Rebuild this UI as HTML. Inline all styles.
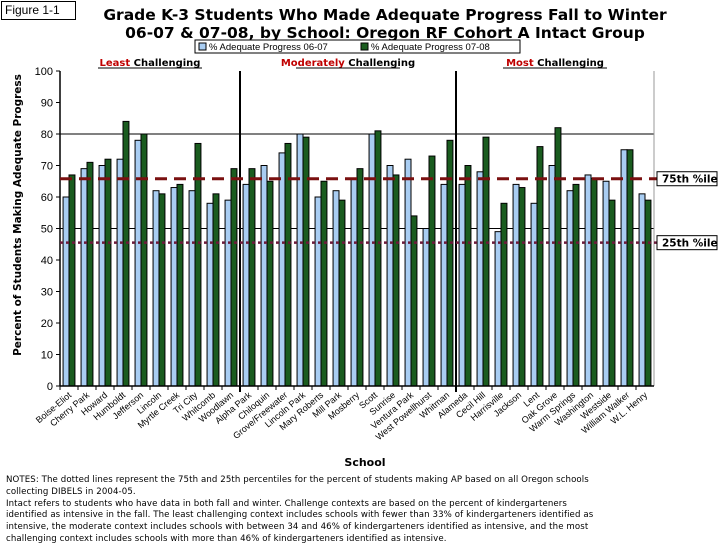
<!DOCTYPE html>
<html><head><meta charset="utf-8">
<style>
body{margin:0;width:720px;height:540px;background:#fff;overflow:hidden;font-family:"Liberation Sans","DejaVu Sans",sans-serif;position:relative}
.abs{position:absolute}
</style></head><body>
<div class="abs" style="left:1px;top:1px;width:70px;height:17px;border:1px solid #000;font-size:12px;line-height:17px;padding-left:3px">Figure 1-1</div>
<div class="abs" style="left:80px;top:6px;width:610px;text-align:center;font-weight:bold;font-size:15.5px;line-height:18px;font-family:'DejaVu Sans',sans-serif">Grade K-3 Students Who Made Adequate Progress Fall to Winter<br>06-07 &amp; 07-08, by School: Oregon RF Cohort A Intact Group</div>
<svg id="chart" class="abs" style="left:0;top:0" width="720" height="540"></svg>
<div class="abs" style="left:6px;top:475px;width:712px;font-size:8.6px;line-height:11.8px;font-family:'DejaVu Sans',sans-serif;letter-spacing:0.1px">NOTES: The dotted lines represent the 75th and 25th percentiles for the percent of students making AP based on all Oregon schools<br>collecting DIBELS in 2004-05.<br>Intact refers to students who have data in both fall and winter. Challenge contexts are based on the percent of kindergarteners<br>identified as intensive in the fall. The least challenging context includes schools with fewer than 33% of kindergarteners identified as<br>intensive, the moderate context includes schools with between 34 and 46% of kindergarteners identified as intensive, and the most<br>challenging context includes schools with more than 46% of kindergarteners identified as intensive.</div>
<script>
const categories=["Boise-Eliot","Cherry Park","Howard","Humboldt","Jefferson","Lincoln","Myrtle Creek","Tri City","Whitcomb","Woodlawn","Alpha Park","Chiloquin","Grove/Freewater","Lincoln Park","Mary Roberts","Mill Park","Mosberry","Scott","Sunrise","Ventura Park","West Powellhurst","Whitman","Alameda","Cecil Hill","Harrisville","Jackson","Lent","Oak Grove","Warm Springs","Washington","Westside","William Walker","W.L. Henry"];
const series0607=[60,69,70,72,78,62,63,62,58,59,64,70,74,80,60,62,66,80,70,72,50,64,64,68,49,64,58,70,62,67,65,75,61];
const series0708=[67,71,72,84,80,61,64,77,61,69,69,65,77,79,65,59,69,81,67,54,73,78,70,79,58,63,76,82,64,66,59,75,59];
const yTicks=[0,10,20,30,40,50,60,70,80,90,100];
const gridValues=[50,80];
const p75=65.8, p25=45.5;
const dividerAfter=[10,22];
const contexts=[["Least"," Challenging",0,10],["Moderately"," Challenging",10,22],["Most"," Challenging",22,33]];
const NS="http://www.w3.org/2000/svg";
const svg=document.getElementById('chart');
const X0=60,X1=654,Y0=386,Y1=71;
const gw=(X1-X0)/categories.length;
const y=v=>Y0-(v/100)*(Y0-Y1);
const x=i=>X0+i*gw;
function mk(t,a,p){const e=document.createElementNS(NS,t);for(const k in a)e.setAttribute(k,a[k]);(p||svg).appendChild(e);return e;}
gridValues.forEach(v=>{const l=mk('line',{x1:X0,x2:X1,y1:y(v),y2:y(v),stroke:'#000','stroke-width':1});

});
mk('line',{x1:X1,x2:X1,y1:Y1,y2:Y0,stroke:'#999','stroke-width':1});
yTicks.forEach(v=>{mk('line',{x1:X0-4,x2:X0,y1:y(v),y2:y(v),stroke:'#000'});
const t=mk('text',{x:X0-7,y:y(v)+4,'text-anchor':'end','font-size':11,fill:'#000'});t.textContent=v;

});
categories.forEach((c,i)=>{
const bw=gw*0.33;
const a=mk('rect',{x:x(i)+gw*0.17,y:y(series0607[i]),width:bw,height:Y0-y(series0607[i]),fill:'#a9cdf2',stroke:'#000','stroke-width':1});


const b=mk('rect',{x:x(i)+gw*0.5,y:y(series0708[i]),width:bw,height:Y0-y(series0708[i]),fill:'#1a5c1f',stroke:'#000','stroke-width':1});


mk('line',{x1:x(i),x2:x(i),y1:Y0,y2:Y0+4,stroke:'#000'});
const tx=x(i)+gw/2+3,ty=Y0+10;
const t=mk('text',{x:tx,y:ty,'text-anchor':'end','font-size':9,fill:'#000',transform:`rotate(-40 ${tx} ${ty})`});t.textContent=c;


});
dividerAfter.forEach(d=>{const l=mk('line',{x1:x(d),x2:x(d),y1:Y1,y2:Y0+6,stroke:'#000','stroke-width':2});

});
mk('line',{x1:X0,x2:X0,y1:Y1,y2:Y0,stroke:'#000','stroke-width':1.5});
mk('line',{x1:X0,x2:X1,y1:Y0,y2:Y0,stroke:'#000','stroke-width':1.5});
const l75=mk('line',{x1:X0,x2:X1+6,y1:y(p75),y2:y(p75),stroke:'#7a1010','stroke-width':3,'stroke-dasharray':'12,7'});


const l25=mk('line',{x1:X0,x2:X1+6,y1:y(p25),y2:y(p25),stroke:'#6b1a3a','stroke-width':2.5,'stroke-dasharray':'3,3'});


[["75th %ile",p75,'p75-label'],["25th %ile",p25,'p25-label']].forEach(([s,v,n])=>{
mk('rect',{x:657,y:y(v)-7,width:60,height:14,fill:'#fff',stroke:'#000'});
const t=mk('text',{x:662,y:y(v)+4,'font-size':10.5,'font-weight':'bold','font-family':'DejaVu Sans'});t.textContent=s;

});
contexts.forEach(([a,b,s,e])=>{const cx=(x(s)+x(e))/2;
const t=mk('text',{x:cx,y:66,'text-anchor':'middle','font-size':10,'font-weight':'bold','font-family':'DejaVu Sans'});
const t1=mk('tspan',{fill:'#c00000'},t);t1.textContent=a;const t2=mk('tspan',{fill:'#000'},t);t2.textContent=b;


mk('line',{x1:cx-52,x2:cx+52,y1:68,y2:68,stroke:'#000'});});
const lg=mk('g',{});
mk('rect',{x:195,y:40,width:325,height:13,fill:'#fff',stroke:'#000'},lg);
mk('rect',{x:199,y:43,width:7,height:7,fill:'#a9cdf2',stroke:'#000'},lg);
let t=mk('text',{x:209,y:50,'font-size':9.5},lg);t.textContent='% Adequate Progress 06-07';
mk('rect',{x:361,y:43,width:7,height:7,fill:'#1a5c1f',stroke:'#000'},lg);
t=mk('text',{x:371,y:50,'font-size':9.5},lg);t.textContent='% Adequate Progress 07-08';
t=mk('text',{x:21,y:215,'text-anchor':'middle','font-size':10.5,'font-weight':'bold','font-family':'DejaVu Sans',transform:'rotate(-90 21 215)'});t.textContent='Percent of Students Making Adequate Progress';

t=mk('text',{x:365,y:466,'text-anchor':'middle','font-size':11,'font-weight':'bold','font-family':'DejaVu Sans'});t.textContent='School';

</script>
</body></html>
